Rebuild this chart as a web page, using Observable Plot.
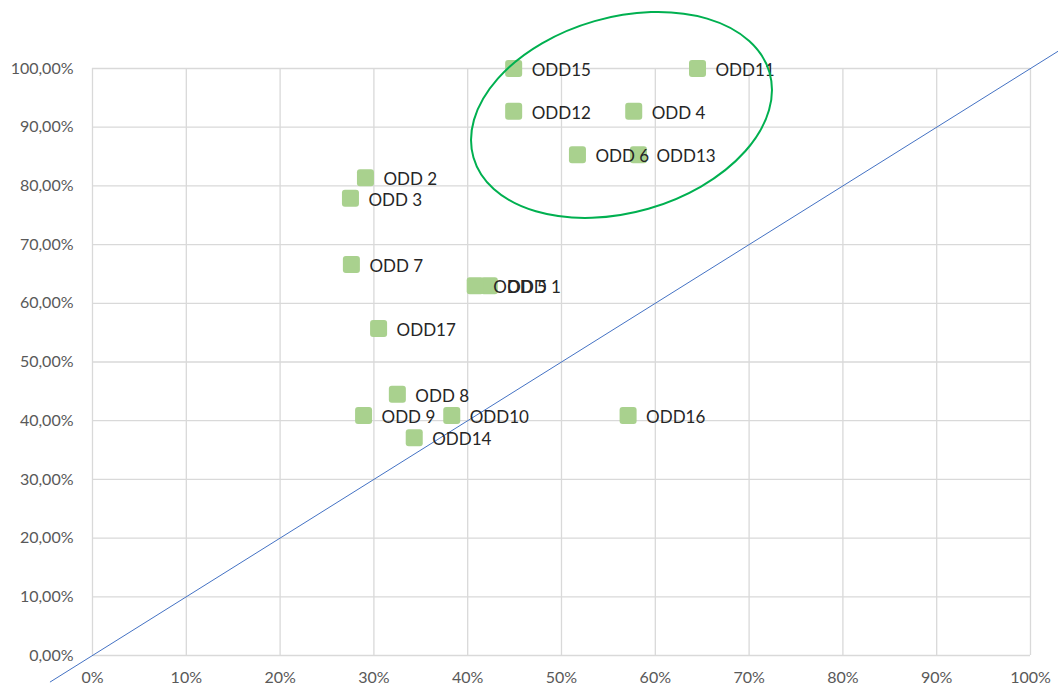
<!DOCTYPE html>
<html>
<head>
<meta charset="utf-8">
<script src="https://cdn.jsdelivr.net/npm/d3@7"></script>
<script src="https://cdn.jsdelivr.net/npm/@observablehq/plot@0.6"></script>
<style>
  html, body { margin: 0; padding: 0; background: #ffffff; }
  #chart svg { display: block; }
</style>
</head>
<body>
<div id="chart"></div>
<script>
// ---- Data ----
const labels = ["ODD 1","ODD 2","ODD 3","ODD 4","ODD 5","ODD 6","ODD 7","ODD 8","ODD 9",
                "ODD10","ODD11","ODD12","ODD13","ODD14","ODD15","ODD16","ODD17"];
const xValues = [42.3, 29.1, 27.5, 57.7, 40.8, 51.7, 27.6, 32.5, 28.9,
                 38.3, 64.5, 44.9, 58.2, 34.3, 44.9, 57.1, 30.5];
const yValues = [63.0, 81.4, 77.9, 92.7, 63.0, 85.3, 66.6, 44.5, 40.9,
                 40.9, 100.0, 92.7, 85.3, 37.1, 100.0, 40.9, 55.7];
const xTicks = [0, 10, 20, 30, 40, 50, 60, 70, 80, 90, 100];
const yTicks = [0, 10, 20, 30, 40, 50, 60, 70, 80, 90, 100];
const diagonal = [{v: -4.5}, {v: 110}];          // reference line y = x
const ellipseCenter = {x: 56.45, y: 92.0};       // annotation circle around the top group

const points = labels.map((name, i) => ({name, x: xValues[i], y: yValues[i]}));

// rounded square marker
const roundSquare = {
  draw(context, size) {
    const s = Math.sqrt(size), h = s / 2, r = 3;
    context.moveTo(-h + r, -h);
    context.arcTo(h, -h, h, h, r);
    context.arcTo(h, h, -h, h, r);
    context.arcTo(-h, h, -h, -h, r);
    context.arcTo(-h, -h, h, -h, r);
    context.closePath();
  }
};

const fmtY = d => d.toFixed(2).replace(".", ",") + "%";
const fmtX = d => d + "%";

const plot = Plot.plot({
  width: 1058,
  height: 686,
  marginLeft: 92,
  marginRight: 28,
  marginTop: 68,
  marginBottom: 31,
  style: {fontFamily: "Lato, 'Open Sans', sans-serif", background: "#ffffff", overflow: "hidden"},
  x: {domain: [0, 100]},
  y: {domain: [0, 100]},
  marks: [
    Plot.gridX(xTicks, {stroke: "#d9d9d9", strokeOpacity: 1, strokeWidth: 1.3}),
    Plot.gridY(yTicks, {stroke: "#d9d9d9", strokeOpacity: 1, strokeWidth: 1.3}),
    Plot.axisX(xTicks, {tickFormat: fmtX, tickSize: 0, tickPadding: 16, fontSize: 16, fill: "#595959", label: null}),
    Plot.axisY(yTicks, {tickFormat: fmtY, tickSize: 0, tickPadding: 19, fontSize: 16, fill: "#595959", label: null}),
    Plot.line(diagonal, {x: "v", y: "v", stroke: "#4472c4", strokeWidth: 1, clip: false}),
    Plot.dot(points, {x: "x", y: "y", symbol: roundSquare, r: 9.6, fill: "#a9d18e", stroke: "none"}),
    Plot.text(points, {x: "x", y: "y", text: "name", dx: 18, dy: 2, textAnchor: "start", lineAnchor: "middle",
                       fontSize: 17, fill: "#262626"})
  ]
});

// annotation ellipse positioned through the plot's scales
const sx = plot.scale("x"), sy = plot.scale("y");
const cx = sx.apply(ellipseCenter.x), cy = sy.apply(ellipseCenter.y);
d3.select(plot).append("ellipse")
  .attr("cx", cx).attr("cy", cy)
  .attr("rx", 154).attr("ry", 97.6)
  .attr("transform", `rotate(-16 ${cx} ${cy})`)
  .attr("fill", "none")
  .attr("stroke", "#00b050")
  .attr("stroke-width", 2);

document.getElementById("chart").appendChild(plot);
</script>
</body>
</html>
